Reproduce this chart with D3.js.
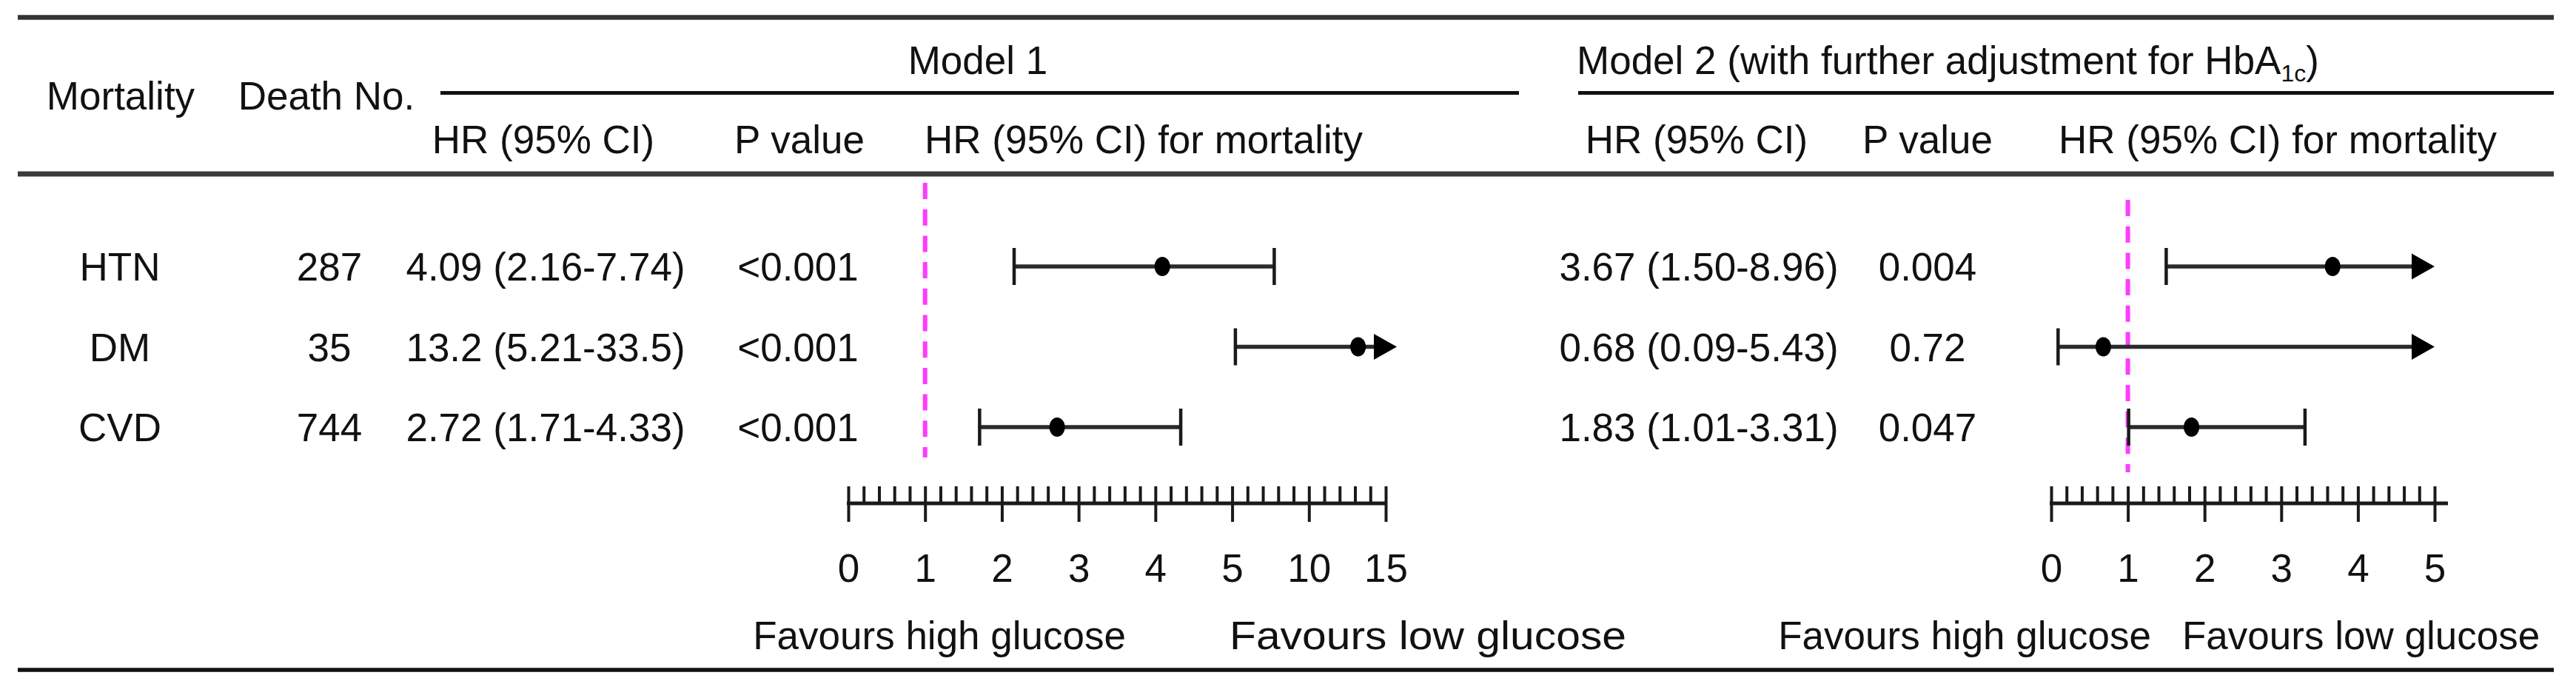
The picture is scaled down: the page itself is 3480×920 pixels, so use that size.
<!DOCTYPE html>
<html>
<head>
<meta charset="utf-8">
<script src="https://cdn.jsdelivr.net/npm/d3@7/dist/d3.min.js"></script>
<style>
  html, body { margin: 0; padding: 0; background: #fff; }
  svg text { font-family: "Liberation Sans", Arial, sans-serif; fill: #111; }
</style>
</head>
<body>
<svg id="chart" width="3480" height="920"></svg>
<script>
// ---------------- data ----------------
const outcomes = ["HTN", "DM", "CVD"];
const deaths = [287, 35, 744];

const m1HR = [4.09, 13.2, 2.72];
const m1Lo = [2.16, 5.21, 1.71];
const m1Hi = [7.74, 33.5, 4.33];
const m1P  = ["<0.001", "<0.001", "<0.001"];

const m2HR = [3.67, 0.68, 1.83];
const m2Lo = [1.50, 0.09, 1.01];
const m2Hi = [8.96, 5.43, 3.31];
const m2P  = ["0.004", "0.72", "0.047"];

const m1Ticks = [0, 1, 2, 3, 4, 5, 10, 15];
const m2Ticks = [0, 1, 2, 3, 4, 5];
const refValue = 1;

// ---------------- layout ----------------
const FS = 53;
const svg = d3.select("#chart");
const fmt = v => v >= 10 ? v.toFixed(1) : v.toFixed(2);
const ciText = (h, l, u) => `${fmt(h)} (${fmt(l)}-${fmt(u)})`;

const yRow = d3.scalePoint().domain(outcomes).range([360, 577]);
const textDy = 19;

function hline(x1, x2, y, w, c) {
  svg.append("line").attr("x1", x1).attr("x2", x2).attr("y1", y).attr("y2", y)
    .attr("stroke", c).attr("stroke-width", w);
}
function txt(x, y, s, anchor = "middle") {
  return svg.append("text").attr("x", x).attr("y", y).attr("text-anchor", anchor)
    .attr("font-size", FS).text(s);
}

// table rules
hline(24, 3450, 23.5, 6.5, "#333");
hline(595, 2052, 125.5, 5, "#111");
hline(2132, 3450, 125.5, 5, "#111");
hline(24, 3450, 235, 7, "#3a3a3a");
hline(24, 3450, 905, 5.5, "#111");

// headers
txt(163, 148, "Mortality");
txt(441, 148, "Death No.");
txt(1321, 100, "Model 1");
const m2t = svg.append("text").attr("x", 2130).attr("y", 100).attr("font-size", FS)
  .text("Model 2 (with further adjustment for HbA");
m2t.append("tspan").attr("font-size", 32).attr("dy", 10).text("1c");
m2t.append("tspan").attr("dy", -10).text(")");

txt(734, 207, "HR (95% CI)");
txt(1080, 207, "P value");
txt(1545, 207, "HR (95% CI) for mortality");
txt(2292, 207, "HR (95% CI)");
txt(2604, 207, "P value");
txt(3077, 207, "HR (95% CI) for mortality");

// table body
outcomes.forEach((o, i) => {
  const y = yRow(o) + textDy;
  txt(162, y, o);
  txt(445, y, deaths[i]);
  txt(737, y, ciText(m1HR[i], m1Lo[i], m1Hi[i]));
  txt(1078, y, m1P[i]);
  txt(2295, y, ciText(m2HR[i], m2Lo[i], m2Hi[i]));
  txt(2604, y, m2P[i]);
});

// ---------------- forest panels ----------------
const panels = [
  { ticks: m1Ticks, x0: 1146, x1: 1872, hr: m1HR, lo: m1Lo, hi: m1Hi,
    refY: [247, 618], arrowShift: 15, axisExt: 0,
    favHigh: { x: 1521 }, favLow: { x: 1661, len: 536 } },
  { ticks: m2Ticks, x0: 2771, x1: 3289, hr: m2HR, lo: m2Lo, hi: m2Hi,
    refY: [270, 638], arrowShift: 0, axisExt: 16,
    favHigh: { x: 2906 }, favLow: { x: 2948, len: null } }
];

const axisY = 680;
const ink = "#1a1a1a";

panels.forEach(p => {
  const n = p.ticks.length - 1;
  const x = d3.scaleLinear()
    .domain(p.ticks)
    .range(p.ticks.map((d, i) => p.x0 + (p.x1 - p.x0) * i / n));
  const xMax = p.ticks[n];

  // reference dashed line
  svg.append("line")
    .attr("x1", x(refValue)).attr("x2", x(refValue))
    .attr("y1", p.refY[0]).attr("y2", p.refY[1])
    .attr("stroke", "#ff3cff").attr("stroke-width", 6)
    .attr("stroke-dasharray", "22,13.7");

  // minor + major upward ticks
  const upTicks = [];
  for (let i = 0; i < n; i++) {
    for (let k = 0; k < 5; k++) upTicks.push(p.ticks[i] + (p.ticks[i + 1] - p.ticks[i]) * k / 5);
  }
  upTicks.push(xMax);

  const gUp = svg.append("g").attr("transform", `translate(0,${axisY})`)
    .call(d3.axisTop(x).tickValues(upTicks).tickSize(23).tickFormat(""));
  gUp.select(".domain").remove();
  gUp.selectAll(".tick line").attr("stroke", ink).attr("stroke-width", 4);

  const gDown = svg.append("g").attr("transform", `translate(0,${axisY})`)
    .call(d3.axisBottom(x).tickValues(p.ticks).tickSizeInner(25).tickSizeOuter(0)
      .tickPadding(43).tickFormat(d3.format("d")));
  gDown.select(".domain").remove();
  gDown.selectAll(".tick line").attr("stroke", ink).attr("stroke-width", 4);
  gDown.selectAll(".tick text")
    .attr("font-size", FS).attr("fill", "#111")
    .attr("font-family", '"Liberation Sans", Arial, sans-serif');

  // axis line
  svg.append("line")
    .attr("x1", x(p.ticks[0]) - 2).attr("x2", x(xMax) + p.axisExt + 2)
    .attr("y1", axisY).attr("y2", axisY)
    .attr("stroke", ink).attr("stroke-width", 5);

  // CI marks
  outcomes.forEach((o, i) => {
    const yc = yRow(o);
    const clipped = p.hi[i] > xMax;
    const xl = x(Math.max(p.lo[i], p.ticks[0]));
    const xr = clipped ? x(xMax) + p.arrowShift - 20 : x(p.hi[i]);

    svg.append("line").attr("x1", xl).attr("x2", xr).attr("y1", yc).attr("y2", yc)
      .attr("stroke", "#2b2b2b").attr("stroke-width", 5.5);

    // lower cap
    svg.append("line").attr("x1", xl).attr("x2", xl).attr("y1", yc - 25).attr("y2", yc + 25)
      .attr("stroke", ink).attr("stroke-width", 4.5);

    if (clipped) {
      const tip = x(xMax) + p.arrowShift;
      svg.append("path")
        .attr("d", `M${tip - 31},${yc - 17.5} L${tip},${yc} L${tip - 31},${yc + 17.5} Z`)
        .attr("fill", "#000");
    } else {
      svg.append("line").attr("x1", xr).attr("x2", xr).attr("y1", yc - 25).attr("y2", yc + 25)
        .attr("stroke", ink).attr("stroke-width", 4.5);
    }

    svg.append("ellipse").attr("cx", x(p.hr[i])).attr("cy", yc)
      .attr("rx", 10.5).attr("ry", 13).attr("fill", "#000");
  });

  // favours labels
  txt(p.favHigh.x, 877, "Favours high glucose", "end");
  const fl = txt(p.favLow.x, 877, "Favours low glucose", "start");
  if (p.favLow.len) fl.attr("textLength", p.favLow.len).attr("lengthAdjust", "spacingAndGlyphs");
});
</script>
</body>
</html>
